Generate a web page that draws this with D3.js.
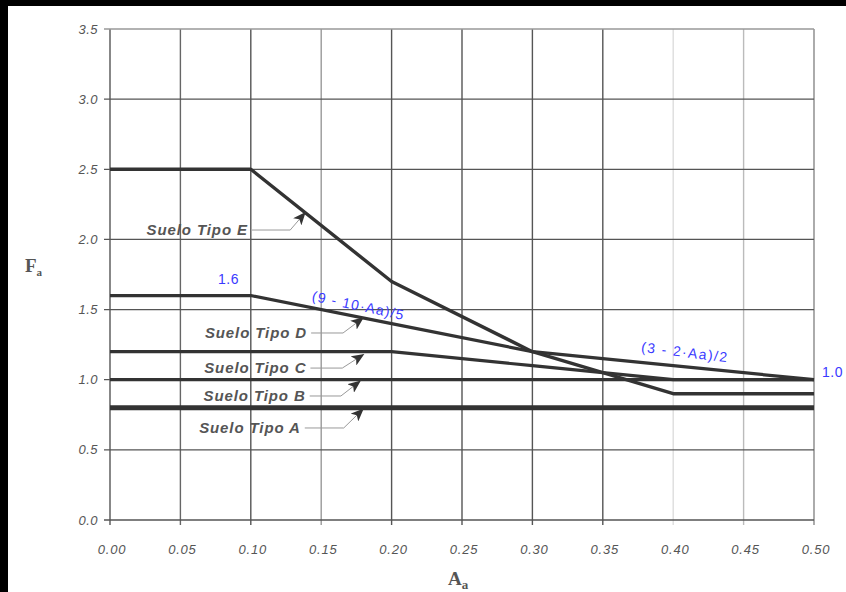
<!DOCTYPE html>
<html>
<head>
<meta charset="utf-8">
<script src="https://cdn.jsdelivr.net/npm/d3@7"></script>
<style>
  html, body { margin: 0; padding: 0; background: #000; }
  svg { display: block; }
</style>
</head>
<body>
<div id="chart"></div>
<script>
// data
const aaValues = [0, 0.1, 0.2, 0.3, 0.4, 0.5]
const sueloA = [0.8, 0.8, 0.8, 0.8, 0.8, 0.8]
const sueloB = [1.0, 1.0, 1.0, 1.0, 1.0, 1.0]
const sueloC = [1.2, 1.2, 1.2, 1.1, 1.0, 1.0]
const sueloD = [1.6, 1.6, 1.4, 1.2, 1.1, 1.0]
const sueloE = [2.5, 2.5, 1.7, 1.2, 0.9, 0.9]
const xTicks = [0, 0.05, 0.1, 0.15, 0.2, 0.25, 0.3, 0.35, 0.4, 0.45, 0.5]
const yTicks = [0, 0.5, 1.0, 1.5, 2.0, 2.5, 3.0, 3.5]
const soilNames = ['Suelo Tipo A', 'Suelo Tipo B', 'Suelo Tipo C', 'Suelo Tipo D', 'Suelo Tipo E']

const width = 846
const height = 592
const margin = { top: 29, right: 32, bottom: 72, left: 110 }

const svg = d3.select('#chart')
  .append('svg')
  .attr('width', width)
  .attr('height', height)

// black scan edge on top / left
svg.append('rect').attr('width', width).attr('height', height).attr('fill', '#000')
svg.append('rect').attr('x', 8).attr('y', 6).attr('width', width - 8).attr('height', height - 6).attr('fill', '#fff')

const x = d3.scaleLinear().domain([0, 0.5]).range([margin.left, width - margin.right])
const y = d3.scaleLinear().domain([0, 3.5]).range([height - margin.bottom, margin.top])

// vertical grid, each line scanned a bit different
const vColors = ['#555', '#666', '#555', '#999', '#555', '#555', '#555', '#555', '#ddd', '#bbb', '#888']
svg.append('g')
  .selectAll('line')
  .data(xTicks)
  .join('line')
  .attr('x1', (d) => x(d)).attr('x2', (d) => x(d))
  .attr('y1', y(3.5)).attr('y2', y(0) + 5)
  .attr('stroke', (d, i) => vColors[i])
  .attr('stroke-width', 1.4)

// horizontal grid
svg.append('g')
  .selectAll('line')
  .data(yTicks)
  .join('line')
  .attr('x1', x(0) - 6).attr('x2', x(0.5))
  .attr('y1', (d) => y(d)).attr('y2', (d) => y(d))
  .attr('stroke', (d) => (d === 3.5 ? '#999' : '#555'))
  .attr('stroke-width', 1.3)

const sans = 'Liberation Sans, Arial, sans-serif'

// tick labels
svg.append('g')
  .selectAll('text')
  .data(yTicks)
  .join('text')
  .attr('x', x(0) - 12)
  .attr('y', (d) => y(d))
  .attr('dy', '0.35em')
  .attr('text-anchor', 'end')
  .attr('font-family', sans)
  .attr('font-style', 'italic')
  .attr('font-size', 13)
  .attr('letter-spacing', 0.5)
  .attr('fill', '#555')
  .text((d) => d.toFixed(1))

svg.append('g')
  .selectAll('text')
  .data(xTicks)
  .join('text')
  .attr('x', (d) => x(d) + 2)
  .attr('y', y(0) + 34)
  .attr('text-anchor', 'middle')
  .attr('font-family', sans)
  .attr('font-style', 'italic')
  .attr('font-size', 13)
  .attr('letter-spacing', 0.8)
  .attr('fill', '#555')
  .text((d) => d.toFixed(2))

// axis titles
const fa = svg.append('text')
  .attr('x', 25).attr('y', 272)
  .attr('font-family', 'Liberation Serif, serif')
  .attr('font-weight', 'bold')
  .attr('font-size', 19)
  .attr('fill', '#555')
fa.append('tspan').text('F')
fa.append('tspan').attr('font-size', 11).attr('dy', 4).text('a')

const aa = svg.append('text')
  .attr('x', 448).attr('y', 585)
  .attr('font-family', 'Liberation Serif, serif')
  .attr('font-weight', 'bold')
  .attr('font-size', 19)
  .attr('fill', '#555')
aa.append('tspan').text('A')
aa.append('tspan').attr('font-size', 13).attr('dy', 4).text('a')

// curves
const series = [sueloA, sueloB, sueloC, sueloD, sueloE]
const widths = [4.8, 3.2, 3.2, 3.2, 3.4]
const line = d3.line().x((d) => x(d[0])).y((d) => y(d[1]))

svg.append('g')
  .selectAll('path')
  .data(series)
  .join('path')
  .attr('d', (s) => line(aaValues.map((a, i) => [a, s[i]])))
  .attr('fill', 'none')
  .attr('stroke', '#333')
  .attr('stroke-width', (d, i) => widths[i])
  .attr('stroke-linejoin', 'round')

// arrow head
svg.append('defs').append('marker')
  .attr('id', 'head')
  .attr('viewBox', '0 0 12 10')
  .attr('refX', 11).attr('refY', 5)
  .attr('markerWidth', 13).attr('markerHeight', 11)
  .attr('markerUnits', 'userSpaceOnUse')
  .attr('orient', 'auto')
  .append('path')
  .attr('d', 'M0,0 L12,5 L0,10 L3,5 Z')
  .attr('fill', '#333')

// label placement, in data units: text end, bend, arrow tip
const notes = [
  { text: 0.1355, ty: 0.656, bend: 0.166, tip: [0.1797, 0.79] },
  { text: 0.1390, ty: 0.884, bend: 0.164, tip: [0.1776, 0.99] },
  { text: 0.1395, ty: 1.083, bend: 0.165, tip: [0.180, 1.18] },
  { text: 0.1400, ty: 1.333, bend: 0.1655, tip: [0.1797, 1.44] },
  { text: 0.0980, ty: 2.067, bend: 0.128, tip: [0.1385, 2.19] },
]

const ann = svg.append('g')
notes.forEach((n, i) => {
  ann.append('text')
    .attr('x', x(n.text))
    .attr('y', y(n.ty))
    .attr('dy', '0.35em')
    .attr('text-anchor', 'end')
    .attr('font-family', sans)
    .attr('font-style', 'italic')
    .attr('font-weight', 'bold')
    .attr('font-size', 15)
    .attr('letter-spacing', 0.9)
    .attr('fill', '#555')
    .text(soilNames[i])
  ann.append('polyline')
    .attr('points', [[x(n.text) + 4, y(n.ty)], [x(n.bend), y(n.ty)], [x(n.tip[0]), y(n.tip[1])]].join(' '))
    .attr('fill', 'none')
    .attr('stroke', '#999')
    .attr('stroke-width', 1)
    .attr('marker-end', 'url(#head)')
})

// blue formula notes
const blue = '#3a3aff'
svg.append('text')
  .attr('x', 218).attr('y', y(1.685))
  .attr('font-family', sans).attr('font-size', 14).attr('fill', blue)
  .attr('letter-spacing', 0.5)
  .text('1.6')
svg.append('text')
  .attr('x', x(0.5) + 8).attr('y', y(1.0) - 3)
  .attr('font-family', sans).attr('font-size', 14).attr('fill', blue)
  .attr('letter-spacing', 0.5)
  .text('1.0')
svg.append('text')
  .attr('transform', `translate(${x(0.143)},${y(1.565)}) rotate(12)`)
  .attr('font-family', sans).attr('font-size', 14).attr('fill', blue)
  .attr('letter-spacing', 1.2)
  .text('(9 - 10·Aa)/5')
svg.append('text')
  .attr('transform', `translate(${x(0.377)},${y(1.2)}) rotate(7)`)
  .attr('font-family', sans).attr('font-size', 14).attr('fill', blue)
  .attr('letter-spacing', 1.4)
  .text('(3 - 2·Aa)/2')
</script>
</body>
</html>
